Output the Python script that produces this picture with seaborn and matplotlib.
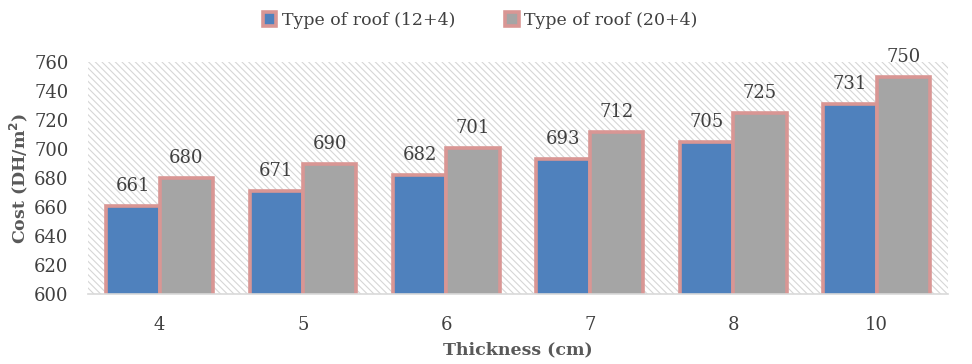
import matplotlib
matplotlib.use("Agg")
import matplotlib.pyplot as plt
import seaborn as sns
import pandas as pd
from matplotlib.patches import Rectangle

thickness = ["4", "5", "6", "7", "8", "10"]
roof_12_4 = [661, 671, 682, 693, 705, 731]
roof_20_4 = [680, 690, 701, 712, 725, 750]
series_names = ["Type of roof (12+4)", "Type of roof (20+4)"]
y_ticks = [600, 620, 640, 660, 680, 700, 720, 740, 760]

df = pd.DataFrame({
    "Thickness": thickness * 2,
    "Cost": roof_12_4 + roof_20_4,
    "Roof": [series_names[0]] * len(thickness) + [series_names[1]] * len(thickness),
})

sns.set_theme(style="white")
plt.rcParams["font.family"] = ["DejaVu Serif"]
plt.rcParams["hatch.color"] = "#d6d6d6"
plt.rcParams["hatch.linewidth"] = 0.8

text_col = "#404040"
edge_col = "#d99694"
palette = {series_names[0]: "#4f81bd", series_names[1]: "#a5a5a5"}

fig = plt.figure(figsize=(9.72, 3.64), dpi=100)
ax = fig.add_axes([0.0905, 0.192, 0.885, 0.637])

# hatched plot background
ax.add_patch(Rectangle((0, 0), 1, 1, transform=ax.transAxes, facecolor="white",
                       edgecolor="#d6d6d6", hatch="\\\\\\\\\\", linewidth=0, zorder=0))

sns.barplot(data=df, x="Thickness", y="Cost", hue="Roof", order=thickness,
            hue_order=series_names, palette=palette, saturation=1, width=0.745,
            edgecolor=edge_col, linewidth=2.6, ax=ax, zorder=2, legend=False)

ax.set_ylim(600, 760)
ax.set_yticks(y_ticks)
ax.set_xlim(-0.5, len(thickness) - 0.5)
for s in ["top", "right", "left"]:
    ax.spines[s].set_visible(False)
ax.spines["bottom"].set_color("#d9d9d9")
ax.spines["bottom"].set_linewidth(1.2)
ax.tick_params(axis="both", length=0, labelsize=13, colors=text_col)
ax.tick_params(axis="y", pad=14)
ax.tick_params(axis="x", pad=16)

for cont in ax.containers:
    ax.bar_label(cont, fmt="%d", padding=8, fontsize=13, color=text_col)

ax.set_xlabel("Thickness (cm)", fontsize=12.5, fontweight="bold", color="#595959", labelpad=5)
ax.set_ylabel("Cost (DH/m$^\\mathbf{2}$)", fontsize=12.5, fontweight="bold", color="#595959", labelpad=3)

handles = [Rectangle((0, 0), 1, 1, facecolor=palette[n], edgecolor=edge_col, linewidth=2.6)
           for n in series_names]
fig.legend(handles, series_names, loc="upper center", bbox_to_anchor=(0.494, 1.01), ncol=2,
           frameon=False, fontsize=12.5, handlelength=0.8, handleheight=0.8,
           handletextpad=0.3, columnspacing=2.9, labelcolor=text_col)

fig.savefig("out.png", dpi=100)
